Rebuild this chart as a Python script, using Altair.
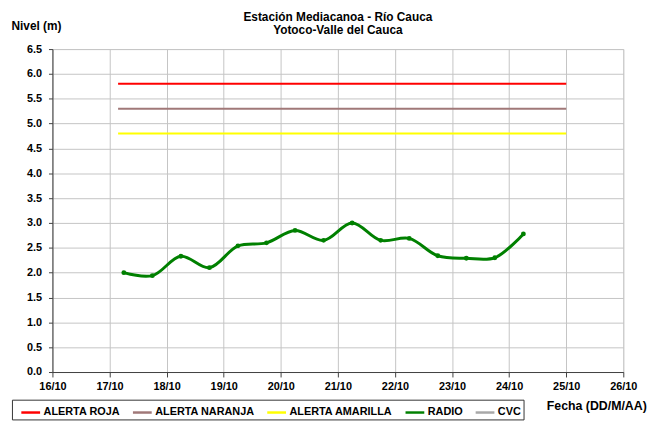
import altair as alt
import pandas as pd

# ---- data ----
radio_day = [17.25, 17.75, 18.25, 18.75, 19.25, 19.75, 20.25, 20.75,
             21.25, 21.75, 22.25, 22.75, 23.25, 23.75, 24.25]
radio_val = [2.00, 1.94, 2.33, 2.10, 2.54, 2.60, 2.85, 2.65,
             3.00, 2.65, 2.69, 2.34, 2.29, 2.30, 2.78]
alert_names = ["ALERTA ROJA", "ALERTA NARANJA", "ALERTA AMARILLA"]
alert_levels = [5.8, 5.3, 4.8]
alert_start = 17.15
alert_end = 25.0
series = ["ALERTA ROJA", "ALERTA NARANJA", "ALERTA AMARILLA", "RADIO", "CVC"]
colors = ["#FF0000", "#A07878", "#FFFF00", "#008000", "#A8A8A8"]
x_ticks = list(range(16, 27))
y_ticks = [i * 0.5 for i in range(14)]
title_lines = ["Estación Mediacanoa - Río Cauca", "Yotoco-Valle del Cauca"]

FONT = "Liberation Sans"
W, H = 578, 327

radio_df = pd.DataFrame({"day": radio_day, "nivel": radio_val, "serie": "RADIO"})
rows = []
for n, lv in zip(alert_names, alert_levels):
    rows.append({"day": alert_start, "nivel": lv, "serie": n})
    rows.append({"day": alert_end, "nivel": lv, "serie": n})
alert_df = pd.DataFrame(rows)

x_enc = alt.X(
    "day:Q",
    scale=alt.Scale(domain=[16, 26], nice=False, zero=False),
    axis=alt.Axis(
        values=x_ticks, labelExpr="datum.value + '/10'",
        title="Fecha (DD/M/AA)", titleX=500, titleY=34, titleAlign="left",
        titleBaseline="middle", titleFont=FONT, titleFontSize=12.5, titleFontWeight="bold",
        titleColor="black",
        labelFont=FONT, labelFontSize=11, labelFontWeight="bold", labelColor="black",
        tickSize=5, labelPadding=4, tickColor="#404040", domainColor="#404040",
        gridColor="#C4C4C4", grid=True, labelFlush=False,
    ),
)
y_enc = alt.Y(
    "nivel:Q",
    scale=alt.Scale(domain=[0, 6.5], nice=False),
    axis=alt.Axis(
        values=y_ticks, format=".1f",
        title="Nivel (m)", titleAngle=0, titleX=-42, titleY=-24, titleAlign="left",
        titleBaseline="middle", titleFont=FONT, titleFontSize=12, titleFontWeight="bold",
        titleColor="black",
        labelFont=FONT, labelFontSize=11, labelFontWeight="bold", labelColor="black",
        tickSize=4, labelPadding=7, tickColor="#404040", domainColor="#404040",
        gridColor="#C4C4C4", grid=True,
    ),
)
color_enc = alt.Color(
    "serie:N",
    scale=alt.Scale(domain=series, range=colors),
    legend=alt.Legend(
        title=None, orient="none", legendX=-41, legendY=355, direction="horizontal",
        symbolType="stroke", symbolSize=361, symbolStrokeWidth=2.5,
        labelFont=FONT, labelFontSize=11, labelFontWeight="bold", labelColor="black",
        labelLimit=300, strokeColor="#333333", fillColor="white", padding=2,
        columnPadding=5, symbolOffset=6, labelOffset=2, columns=5,
    ),
)

alerts = alt.Chart(alert_df).mark_line(strokeWidth=2).encode(
    x=x_enc, y=y_enc, color=color_enc, detail="serie:N"
)
radio_line = alt.Chart(radio_df).mark_line(strokeWidth=3, interpolate="catmull-rom").encode(
    x=x_enc, y=y_enc, color=color_enc
)
radio_pts = alt.Chart(radio_df).mark_point(filled=True, size=24, opacity=1).encode(
    x=x_enc, y=y_enc,
    color=alt.Color("serie:N", scale=alt.Scale(domain=series, range=colors), legend=None),
)

title_df = pd.DataFrame({"t": title_lines, "row": [0, 1]})
title1 = alt.Chart(title_df.iloc[[0]]).mark_text(
    font=FONT, fontSize=12, fontWeight="bold", color="black", align="center", baseline="middle"
).encode(text="t:N", x=alt.value(W / 2), y=alt.value(-32))
title2 = alt.Chart(title_df.iloc[[1]]).mark_text(
    font=FONT, fontSize=12, fontWeight="bold", color="black", align="center", baseline="middle"
).encode(text="t:N", x=alt.value(W / 2), y=alt.value(-19))

chart = (
    alt.layer(alerts, radio_line, radio_pts, title1, title2)
    .properties(
        width=W, height=H,
        autosize=alt.AutoSizeParams(type="none"),
        padding={"left": 45, "top": 39, "right": 24, "bottom": 48},
    )
    .configure_view(stroke=None)
    .configure(background="white")
)

chart.save("out.html", embed_options={"renderer": "svg", "actions": False})
